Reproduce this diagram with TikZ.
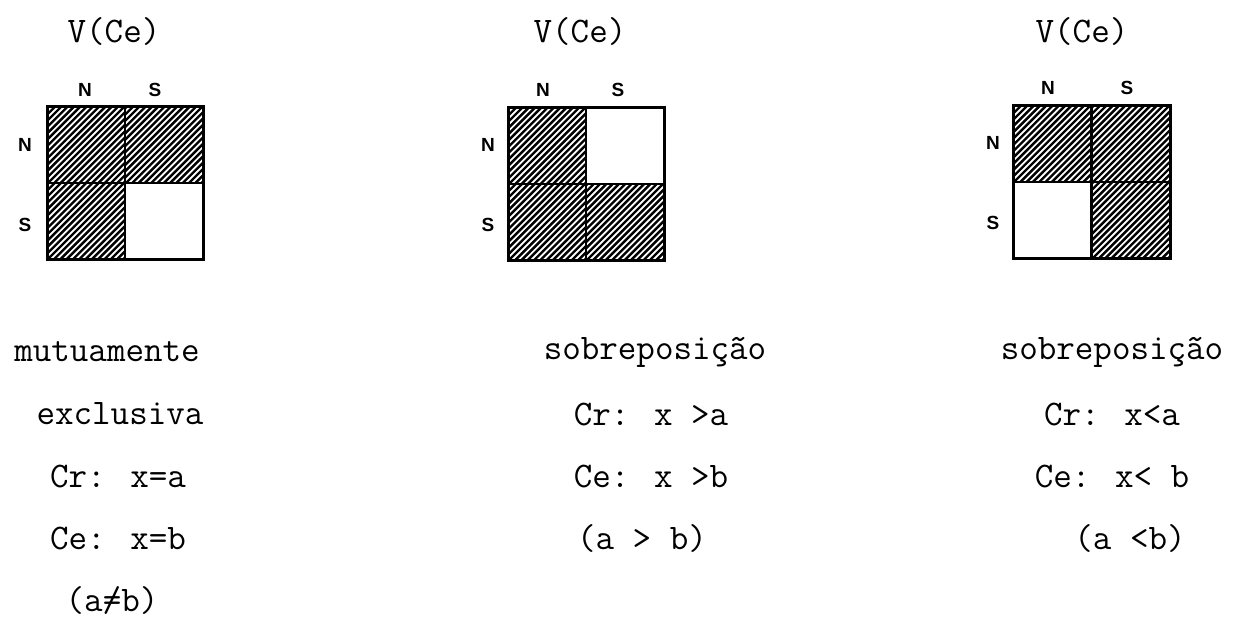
\documentclass[tikz,border=0pt]{standalone}
\usepackage{fontspec}
\newfontfamily\lblfont{Liberation Sans}
\begin{document}
\begin{tikzpicture}[x=1pt,y=-1pt,
  cell/.style={draw=black, line width=2.4pt, minimum width=78pt, minimum height=76pt, inner sep=0pt, outer sep=0pt, anchor=north west},
  hatchline/.style={line width=2.4pt},
  hatched/.style={path picture={
      \foreach \k in {-15,...,15}
        \draw[hatchline] (path picture bounding box.center) ++(\k*6.3-60,60) -- ++(120,-120);}},
  frame/.style={draw=black, line width=3pt},
  ttxt/.style={font=\fontsize{36}{42}\selectfont\ttfamily\addfontfeature{FakeBold=0.6}, inner sep=0pt},
  lbl/.style={font=\fontsize{19}{22}\selectfont\lblfont\bfseries, inner sep=0pt}]
\useasboundingbox (0,0) rectangle (1236,623);

% ---------- grid 1 ----------
\node[ttxt] (t1) at (114,32) {V(Ce)};
\node[cell,hatched] (a11) at (47,107) {};
\node[cell,hatched] (a12) at (125,107) {};
\node[cell,hatched] (a21) at (47,183) {};
\node[cell] (a22) at (125,183) {};
\draw[frame] (a11.north west) rectangle (a22.south east);
\node[lbl] (a1cn) at (85,90) {N};
\node[lbl] (a1cs) at (155,90) {S};
\node[lbl] (a1rn) at (25,145) {N};
\node[lbl] (a1rs) at (25,225) {S};

% ---------- grid 2 ----------
\node[ttxt] (t2) at (580,32) {V(Ce)};
\node[cell,hatched] (b11) at (508,108) {};
\node[cell] (b12) at (586,108) {};
\node[cell,hatched] (b21) at (508,184) {};
\node[cell,hatched] (b22) at (586,184) {};
\draw[frame] (b11.north west) rectangle (b22.south east);
\node[lbl] (b1cn) at (543,90) {N};
\node[lbl] (b1cs) at (618,90) {S};
\node[lbl] (b1rn) at (488,145) {N};
\node[lbl] (b1rs) at (488,225) {S};

% ---------- grid 3 ----------
\node[ttxt] (t3) at (1082,32) {V(Ce)};
\node[cell,hatched] (c11) at (1013,106) {};
\node[cell,hatched] (c12) at (1092,106) {};
\node[cell] (c21) at (1013,182) {};
\node[cell,hatched] (c22) at (1092,182) {};
\draw[frame] (c11.north west) rectangle (c22.south east);
\node[lbl] (c1cn) at (1048,88) {N};
\node[lbl] (c1cs) at (1127,88) {S};
\node[lbl] (c1rn) at (993,143) {N};
\node[lbl] (c1rs) at (993,223) {S};

% ---------- texts, column 1 ----------
\node[ttxt] (l1) at (107,352) {mutuamente};
\node[ttxt] (l2) at (120,414) {exclusiva};
\node[ttxt] (l3) at (118,476) {Cr: x=a};
\node[ttxt] (l4) at (118,538) {Ce: x=b};
\node[ttxt] (l5) at (112,600) {(a\rlap{/}=b)};

% ---------- texts, column 2 ----------
\node[ttxt] (m1) at (655,352) {sobreposição};
\node[ttxt] (m2) at (651,414) {Cr: x >a};
\node[ttxt] (m3) at (651,476) {Ce: x >b};
\node[ttxt] (m4) at (642,538) {(a > b)};

% ---------- texts, column 3 ----------
\node[ttxt] (r1) at (1112,352) {sobreposição};
\node[ttxt] (r2) at (1112,414) {Cr: x<a};
\node[ttxt] (r3) at (1112,476) {Ce: x< b};
\node[ttxt] (r4) at (1130,538) {(a <b)};
\end{tikzpicture}
\end{document}
